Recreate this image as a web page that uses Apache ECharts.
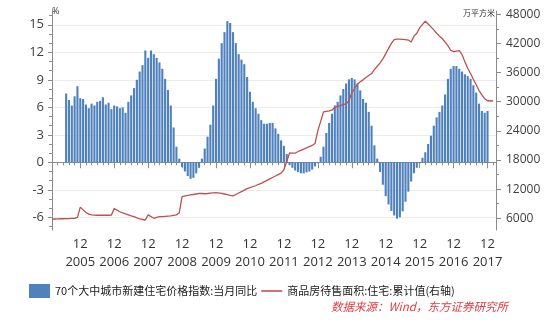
<!DOCTYPE html>
<html><head><meta charset="utf-8">
<script src="https://cdn.jsdelivr.net/npm/echarts@6/dist/echarts.min.js"></script>
<style>html,body{margin:0;padding:0;background:#fff}#c{width:557px;height:330px}</style>
</head><body><div id="c"></div>
<script>
// Category range (monthly)
const firstMonth = [2005, 2];
const lastMonth = [2018, 3];

// 70个大中城市新建住宅价格指数:当月同比 (%), monthly from 2005-07
const priceStart = '2005-07';
const priceYoY = [
  7.5, 6.8, 6.2, 7.2, 8.3, 7.0,
  6.9, 6.3, 5.9, 6.4, 6.2, 6.6, 6.7, 7.1, 6.3, 6.5, 5.8, 6.2,
  6.1, 5.9, 6.0, 5.4, 6.6, 7.3, 8.1, 9.0, 9.9, 10.6, 12.2, 11.4,
  12.2, 11.8, 11.4, 10.9, 10.2, 9.1, 7.9, 6.2, 3.8, 1.7, 0.4, -0.5,
  -1.0, -1.5, -1.8, -1.7, -1.2, -0.6, 0.4, 1.5, 2.8, 4.1, 6.2, 9.1,
  11.3, 13.0, 14.2, 15.4, 15.2, 14.2, 13.0, 11.8, 11.2, 10.7, 9.3, 7.7,
  6.6, 5.9, 5.3, 4.6, 4.2, 4.2, 4.3, 4.3, 3.7, 3.1, 2.4, 1.8,
  0.9, -0.3, -0.6, -0.9, -1.05, -1.2, -1.2, -1.1, -1.0, -0.8, -0.45, -0.1,
  0.6, 1.7, 3.2, 4.3, 5.3, 6.2, 6.6, 7.3, 8.0, 8.6, 9.05, 9.2,
  9.05, 8.6, 7.85, 6.9, 6.5, 5.5, 4.0, 1.85, 0.4, -1.05, -2.45, -3.7,
  -4.6, -5.3, -5.8, -6.15, -6.0, -5.35, -4.3, -3.2, -2.1, -1.2, -0.6, -0.1,
  0.5, 1.1, 2.0, 2.9, 4.0, 4.9, 5.5, 6.2, 7.4, 9.1, 10.2, 10.5,
  10.5, 10.2, 9.9, 9.6, 9.4, 9.1, 8.4, 7.6, 6.4, 5.6, 5.4, 5.6
];

// 商品房待售面积:住宅:累计值 (万平方米), monthly from 2005-02 (January not published)
const invStart = '2005-02';
const inventory = [
  5800, 5850, 5880, 5900, 5900, 5920, 5950, 5980, 6000, 6200, 8300,
  null, 7200, 6850, 6700, 6650, 6620, 6620, 6620, 6620, 6620, 6650, 8000,
  null, 7350, 7100, 6900, 6700, 6500, 6330, 6100, 5900, 5750, 5650, 6700,
  null, 6000, 6200, 6330, 6350, 6400, 6450, 6500, 6600, 6700, 7150, 10450,
  null, 10700, 10800, 10900, 11000, 11140, 11100, 11050, 11100, 11200, 11250, 11300,
  null, 11150, 11000, 10850, 10700, 10600, 10900, 11200, 11500, 11800, 12100, 12300,
  null, 12700, 13000, 13200, 13500, 13800, 14100, 14400, 14700, 15000, 15300, 16000,
  null, 19450, 19400, 19400, 19750, 20000, 20250, 20500, 20750, 21000, 21400, 24000,
  null, 27900, 28000, 28100, 28250, 28800, 29100, 29200, 29400, 29550, 30200, 31800,
  null, 33600, 34100, 34500, 35000, 35400, 35800, 36600, 37300, 38000, 38800, 39900,
  null, 42000, 42800, 42900, 42900, 42850, 42800, 42700, 42300, 43500, 44100, 45200,
  null, 46600, 46000, 45400, 44800, 44100, 43500, 43000, 42300, 41500, 40600, 40300,
  null, 40500, 39700, 38200, 36900, 35800, 34600, 33500, 32300, 31400, 30600, 30200,
  null, 30150
];

const leftTicks = [-6, -3, 0, 3, 6, 9, 12, 15];
const leftMinorTicks = [-7, -6, -5, -4, -3, -2, -1, 0, 1, 2, 3, 4, 5, 6, 7, 8, 9, 10, 11, 12, 13, 14, 15, 16];
const rightTicks = [6000, 12000, 18000, 24000, 30000, 36000, 42000, 48000];
const rightMinorTicks = [6000, 9000, 12000, 15000, 18000, 21000, 24000, 27000, 30000, 33000, 36000, 39000, 42000, 45000, 48000];

const barName = '70个大中城市新建住宅价格指数:当月同比';
const lineName = '商品房待售面积:住宅:累计值(右轴)';
const sourceText = '数据来源：Wind，东方证券研究所';

// build month categories
const categories = [];
{
  let y = firstMonth[0], m = firstMonth[1];
  while (y < lastMonth[0] || (y === lastMonth[0] && m <= lastMonth[1])) {
    categories.push(y + '-' + String(m).padStart(2, '0'));
    m++; if (m > 12) { m = 1; y++; }
  }
}
function align(start, arr) {
  const off = categories.indexOf(start);
  const out = new Array(categories.length).fill(null);
  arr.forEach((v, i) => { out[off + i] = v; });
  return out;
}

const numFont = "'Open Sans', 'DejaVu Sans', sans-serif";
const cjkFont = "'Noto Sans CJK SC', sans-serif";
const axisColor = '#8c8c8c';

const chart = echarts.init(document.getElementById('c'), null, { renderer: 'canvas' });
chart.setOption({
  animation: false,
  backgroundColor: '#fff',
  grid: { left: 52, right: 61, top: 11, bottom: 100, containLabel: false },
  legend: {
    left: 24, top: 279, itemWidth: 21, itemHeight: 14, itemGap: 4,
    textStyle: { fontSize: 11, color: '#1a1a1a', fontFamily: cjkFont },
    data: [
      { name: barName, icon: 'rect' },
      { name: lineName, icon: 'path://M0,0 L40,0 L40,3 L0,3 Z', itemStyle: { color: '#c0504d' } }
    ]
  },
  xAxis: [{
    type: 'category', data: categories, boundaryGap: false,
    axisLine: { lineStyle: { color: axisColor } },
    axisTick: { interval: (i, v) => v.endsWith('-12'), length: 6, lineStyle: { color: axisColor } },
    axisLabel: {
      interval: (i, v) => v.endsWith('-12'),
      formatter: v => '12\n' + v.slice(0, 4),
      color: '#333', fontSize: 13, lineHeight: 18, margin: 5, fontFamily: numFont
    },
    splitLine: { show: false }
  }, {
    type: 'category', data: categories, boundaryGap: false, position: 'bottom',
    axisLine: { show: false }, axisLabel: { show: false }, splitLine: { show: false },
    axisTick: { interval: (i, v) => Number(v.slice(5)) % 2 === 0, length: 3, lineStyle: { color: axisColor } }
  }],
  yAxis: [{
    type: 'value', position: 'left', min: -7.385, max: 16.505,
    axisLine: { show: true, lineStyle: { color: axisColor } },
    axisTick: { show: true, customValues: leftTicks, length: 4, lineStyle: { color: axisColor } },
    axisLabel: { customValues: leftTicks, color: '#404040', fontSize: 13, margin: 8, fontFamily: numFont },
    splitLine: { show: true, lineStyle: { color: '#ececec' } }
  }, {
    type: 'value', position: 'right', min: 3588, max: 48677,
    axisLine: { show: true, lineStyle: { color: axisColor } },
    axisTick: { show: true, customValues: rightTicks, length: 5, lineStyle: { color: axisColor } },
    axisLabel: { customValues: rightTicks, formatter: v => String(v), color: '#404040', fontSize: 12, margin: 10, fontFamily: numFont },
    splitLine: { show: false }
  }, {
    type: 'value', position: 'left', min: -7.385, max: 16.505,
    axisLine: { show: false }, axisLabel: { show: false }, splitLine: { show: false },
    axisTick: { show: true, customValues: leftMinorTicks, length: 3, lineStyle: { color: axisColor } }
  }, {
    type: 'value', position: 'right', min: 3588, max: 48677,
    axisLine: { show: false }, axisLabel: { show: false }, splitLine: { show: false },
    axisTick: { show: true, customValues: rightMinorTicks, length: 3, lineStyle: { color: axisColor } }
  }],
  graphic: [
    { type: 'text', left: 52, top: 7, style: { text: '%', fontSize: 9, fill: '#333', fontFamily: numFont } },
    { type: 'text', right: 62, top: 9, style: { text: '万平方米', fontSize: 8, fill: '#333', fontFamily: cjkFont } },
    { type: 'text', left: 331, top: 301, style: { text: sourceText, fontSize: 11.5, fill: '#e23b3f', fontStyle: 'italic', fontFamily: cjkFont } }
  ],
  series: [{
    name: barName, type: 'bar', xAxisIndex: 0, yAxisIndex: 0,
    data: align(priceStart, priceYoY),
    barCategoryGap: '25%',
    itemStyle: { color: '#4f81bd' }
  }, {
    name: lineName, type: 'line', xAxisIndex: 0, yAxisIndex: 1,
    data: align(invStart, inventory),
    connectNulls: true, symbol: 'none', z: 5,
    lineStyle: { color: '#c0504d', width: 1.3 },
    itemStyle: { color: '#c0504d' }
  }]
});
</script></body></html>
